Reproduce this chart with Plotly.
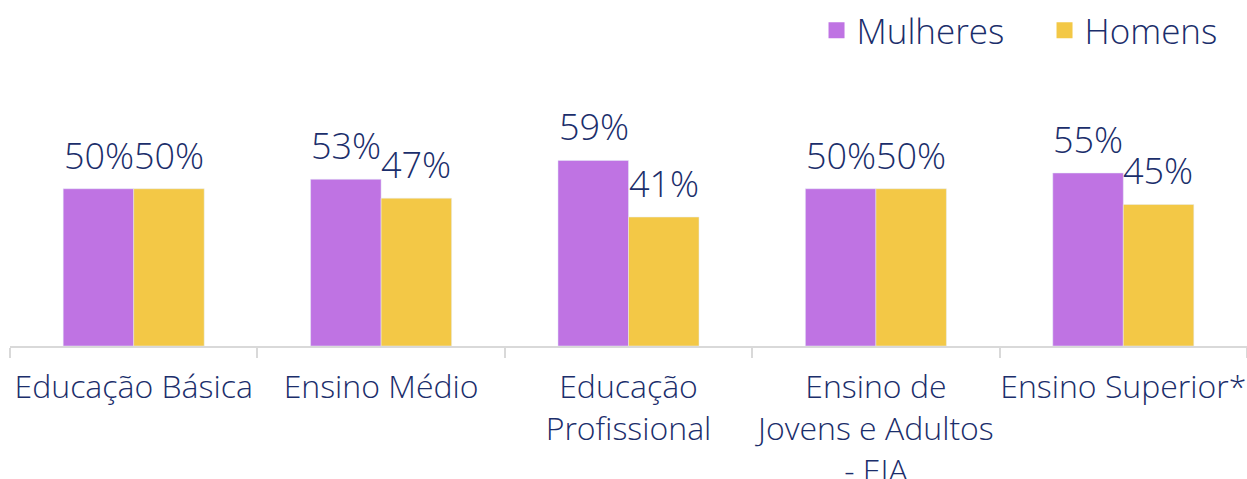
import plotly.graph_objects as go

categories = ["Educação Básica", "Ensino Médio", "Educação<br>Profissional",
              "Ensino de<br>Jovens e Adultos<br>- EJA", "Ensino Superior*"]
mulheres = [50, 53, 59, 50, 55]
homens = [50, 47, 41, 50, 45]
series_names = ["Mulheres", "Homens"]
series_colors = ["#BF73E3", "#F3C846"]

TEXT = "#1B2E6B"
FONT = "Open Sans"

fig = go.Figure()
for name, vals, col in zip(series_names, [mulheres, homens], series_colors):
    fig.add_trace(go.Bar(x=categories, y=vals, name=name, marker_color=col,
                         showlegend=False, hoverinfo="skip"))
    # legend proxy with larger square swatch
    fig.add_trace(go.Scatter(x=[None], y=[None], mode="markers", name=name,
                             marker=dict(symbol="square", size=16, color=col)))

for vals, shift in [(mulheres, -35), (homens, 35)]:
    for cat, v in zip(categories, vals):
        fig.add_annotation(x=cat, y=v, text=f"{v}%", showarrow=False,
                           xref="x", yref="y", yanchor="bottom",
                           xshift=shift, yshift=7,
                           font=dict(family=FONT, size=36, color=TEXT, weight=300))

fig.update_layout(
    width=1247, height=479,
    margin=dict(l=10, r=0, t=0, b=133, autoexpand=False),
    paper_bgcolor="white", plot_bgcolor="white",
    barmode="group", bargap=0.43, bargroupgap=0,
    font=dict(family=FONT, color=TEXT, weight=300),
    legend=dict(orientation="h", x=0.652, xanchor="left", y=0.997, yanchor="top",
                font=dict(family=FONT, size=35, color=TEXT, weight=300),
                entrywidthmode="pixels", entrywidth=183,
                itemsizing="trace", bgcolor="rgba(0,0,0,0)"),
    xaxis=dict(showline=True, linecolor="#D9D9D9", linewidth=2,
               ticks="outside", tickson="boundaries", ticklen=10,
               tickcolor="#D9D9D9", tickwidth=2, ticklabelstandoff=12,
               tickangle=0,
               tickfont=dict(family=FONT, size=32, color=TEXT, weight=300),
               automargin=False, showgrid=False),
    yaxis=dict(visible=False, range=[0, 110], showgrid=False, zeroline=False),
)

fig.write_html("out.html", config={"displayModeBar": False},
               post_script="document.body.style.margin='0';")
